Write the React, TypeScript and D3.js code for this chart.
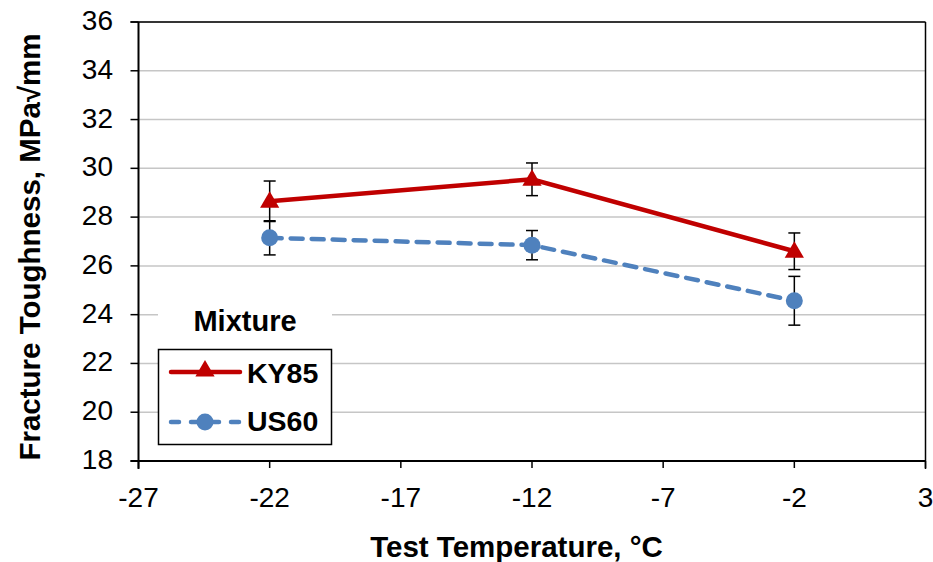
import React from "react";
import * as d3 from "d3";

const temps = [-22, -12, -2];
const ky85 = [28.65, 29.55, 26.6];
const ky85Err = [0.83, 0.67, 0.75];
const us60 = [27.15, 26.85, 24.57];
const us60Err = [0.7, 0.6, 1.0];
const xTicks = [-27, -22, -17, -12, -7, -2, 3];
const yTicks = [18, 20, 22, 24, 26, 28, 30, 32, 34, 36];

const W = 933, H = 562;
const L = 138.5, R = 925.5, T = 22, B = 461;
const FONT = "Liberation Sans, Arial, sans-serif";

export default function App() {
  const x = d3.scaleLinear().domain([-27, 3]).range([L, R]);
  const y = d3.scaleLinear().domain([18, 36]).range([B, T]);
  const line = d3.line<number>().x((_, i) => x(temps[i])).y(d => y(d));
  const tri = d3.symbol().type(d3.symbolTriangle).size(160)();
  const series = [
    { vals: ky85, err: ky85Err, color: "#C00000", dash: undefined as string | undefined, mk: "tri" },
    { vals: us60, err: us60Err, color: "#4F81BD", dash: "12,9", mk: "circ" },
  ];
  const marker = (mk: string, cx: number, cy: number, color: string, k: string) =>
    mk === "tri" ? (
      <path key={k} d={tri!} transform={`translate(${cx},${cy + 1})`} fill={color} />
    ) : (
      <circle key={k} cx={cx} cy={cy} r={8.5} fill={color} />
    );
  return (
    <svg width={W} height={H} style={{ position: "absolute", left: 0, top: 0, background: "#fff" }} fontFamily={FONT}>
      {yTicks.map(t => (
        <line key={"g" + t} x1={L} x2={R} y1={y(t)} y2={y(t)} stroke="#c6c6c6" strokeWidth={1.5} />
      ))}
      {/* axes box */}
      <line x1={L - 8} x2={R} y1={T} y2={T} stroke="#000" strokeWidth={1.5} />
      <line x1={R} x2={R} y1={T} y2={B + 8} stroke="#000" strokeWidth={1.5} />
      <line x1={L} x2={L} y1={T} y2={B + 8} stroke="#000" strokeWidth={2} />
      <line x1={L - 8} x2={R} y1={B} y2={B} stroke="#000" strokeWidth={2} />
      {yTicks.map(t => (
        <g key={"yt" + t}>
          <line x1={L - 8} x2={L} y1={y(t)} y2={y(t)} stroke="#000" strokeWidth={1.5} />
          <text x={113} y={y(t) + 8} textAnchor="end" fontSize={28}>{t}</text>
        </g>
      ))}
      {xTicks.map(t => (
        <g key={"xt" + t}>
          <line x1={x(t)} x2={x(t)} y1={B} y2={B + 7} stroke="#000" strokeWidth={1.5} />
          <text x={x(t)} y={507} textAnchor="middle" fontSize={28}>{t}</text>
        </g>
      ))}
      <text x={516.5} y={557} textAnchor="middle" fontSize={29.5} fontWeight="bold">Test Temperature, °C</text>
      <text transform="translate(40,247) rotate(-90)" textAnchor="middle" fontSize={29.5} fontWeight="bold">Fracture Toughness, MPa√mm</text>
      {/* error bars */}
      {series.map((s, si) =>
        s.vals.map((v, i) => {
          const cx = x(temps[i]);
          return (
            <g key={`e${si}-${i}`} stroke="#000" strokeWidth={1.5}>
              <line x1={cx} x2={cx} y1={y(v - s.err[i])} y2={y(v + s.err[i])} />
              <line x1={cx - 6} x2={cx + 6} y1={y(v - s.err[i])} y2={y(v - s.err[i])} />
              <line x1={cx - 6} x2={cx + 6} y1={y(v + s.err[i])} y2={y(v + s.err[i])} />
            </g>
          );
        })
      )}
      {series.map((s, si) => (
        <g key={"s" + si}>
          <path d={line(s.vals)!} fill="none" stroke={s.color} strokeWidth={4.5} strokeDasharray={s.dash} strokeLinecap={s.dash ? "round" : "butt"} />
          {s.vals.map((v, i) => marker(s.mk, x(temps[i]), y(v), s.color, `m${si}-${i}`))}
        </g>
      ))}
      {/* legend */}
      <rect x={158} y={300} width={174} height={40} fill="#fff" />
      <text x={245} y={331} textAnchor="middle" fontSize={29} fontWeight="bold">Mixture</text>
      <rect x={158.5} y={349.5} width={173} height={95} fill="#fff" stroke="#000" strokeWidth={1.5} />
      <line x1={171} x2={240} y1={372} y2={372} stroke="#C00000" strokeWidth={4.5} strokeLinecap="round" />
      {marker("tri", 205, 370, "#C00000", "lk")}
      <text x={247} y={383} fontSize={28.5} fontWeight="bold">KY85</text>
      <line x1={171} x2={240} y1={422} y2={422} stroke="#4F81BD" strokeWidth={4.5} strokeDasharray="8,12" strokeLinecap="round" />
      {marker("circ", 205, 422, "#4F81BD", "lu")}
      <text x={247} y={431} fontSize={28.5} fontWeight="bold">US60</text>
    </svg>
  );
}
